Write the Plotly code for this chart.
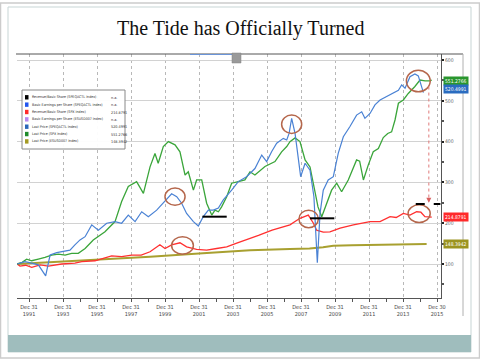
import plotly.graph_objects as go

# ---------------- data (decimal years, index values) ----------------
spx_year = [1991.30, 1991.60, 1991.86, 1992.16, 1992.55, 1992.94, 1993.33, 1993.73, 1994.12, 1994.51,
            1994.90, 1995.30, 1995.78, 1996.20, 1996.47, 1997.06, 1997.45, 1997.84, 1998.33, 1998.73,
            1999.02, 1999.12, 1999.41, 1999.60, 1999.90, 2000.20, 2000.59, 2000.88, 2001.18, 2001.37,
            2001.67, 2001.86, 2002.16, 2002.45, 2002.75, 2002.94, 2003.14, 2003.33, 2003.63, 2003.92,
            2004.31, 2004.70, 2005.00, 2005.29, 2005.88, 2006.47, 2006.86, 2007.16, 2007.35, 2007.65,
            2007.94, 2008.24, 2008.53, 2008.82, 2009.00, 2009.22, 2009.51, 2009.80, 2010.10, 2010.39,
            2010.78, 2011.27, 2011.45, 2011.67, 2011.96, 2012.25, 2012.55, 2012.84, 2013.10, 2013.33,
            2013.53, 2013.73, 2014.02, 2014.31, 2014.70, 2015.00, 2015.30, 2015.59, 2015.69]
spx_price = [100, 104, 112, 108, 112, 116, 122, 124, 122, 126,
             126, 138, 159, 172, 179, 204, 253, 290, 302, 273,
             326, 338, 371, 347, 388, 400, 392, 375, 318, 326,
             281, 306, 306, 249, 220, 232, 228, 240, 265, 298,
             302, 306, 326, 318, 339, 351, 375, 388, 400, 409,
             400, 355, 338, 281, 240, 216, 249, 281, 298, 277,
             306, 355, 352, 306, 343, 375, 383, 410, 420, 424,
             453, 494, 502, 518, 535, 551, 549, 549, 551]

eq_year = [1991.30, 1991.76, 1992.16, 1992.55, 1992.98, 1993.24, 1993.63, 1994.12, 1994.41, 1994.70,
           1995.00, 1995.30, 1995.69, 1996.08, 1996.57, 1997.06, 1997.45, 1997.84, 1998.24, 1998.63,
           1999.02, 1999.51, 1999.80, 2000.10, 2000.39, 2000.69, 2000.98, 2001.27, 2001.67, 2001.96,
           2002.25, 2002.55, 2002.84, 2003.14, 2003.43, 2003.92, 2004.31, 2004.80, 2005.29, 2005.69,
           2005.98, 2006.27, 2006.57, 2006.96, 2007.16, 2007.30, 2007.45, 2007.65, 2007.84, 2007.98,
           2008.24, 2008.53, 2008.76, 2008.96, 2009.12, 2009.31, 2009.60, 2009.90, 2010.19, 2010.49,
           2010.88, 2011.27, 2011.57, 2011.76, 2012.06, 2012.35, 2012.65, 2013.04, 2013.43, 2013.73,
           2013.92, 2014.12, 2014.41, 2014.70, 2014.90, 2015.10, 2015.20]
eq_price = [100, 106, 102, 98, 71, 122, 128, 132, 134, 147,
            159, 167, 196, 183, 200, 204, 200, 220, 204, 228,
            216, 232, 245, 261, 272, 265, 249, 224, 204, 193,
            216, 232, 232, 237, 257, 281, 302, 314, 334, 367,
            351, 375, 396, 408, 404, 420, 457, 420, 355, 314,
            347, 330, 265, 103, 224, 281, 306, 314, 371, 412,
            437, 465, 473, 457, 469, 490, 502, 510, 518, 526,
            539, 531, 559, 566, 561, 531, 520]

rev_year = [1991.30, 1991.47, 1991.80, 1992.16, 1992.65, 1993.14, 1993.92, 1994.70, 1995.10, 1995.88,
            1996.86, 1997.45, 1998.04, 1998.60, 1999.12, 1999.70, 2000.00, 2000.39, 2000.88, 2001.27,
            2001.86, 2002.45, 2003.04, 2003.63, 2004.22, 2004.80, 2005.50, 2006.30, 2007.00, 2007.35,
            2007.94, 2008.43, 2008.73, 2008.92, 2009.31, 2009.70, 2010.30, 2011.08, 2012.06, 2012.65,
            2013.24, 2013.60, 2014.02, 2014.41, 2014.80, 2015.05, 2015.29, 2015.69]
rev_share = [100, 95, 97, 92, 98, 95, 100, 102, 106, 108,
             120, 118, 122, 122, 130, 147, 138, 147, 152, 142,
             136, 134, 138, 142, 151, 159, 170, 183, 192, 196,
             212, 220, 200, 183, 178, 179, 188, 196, 204, 204,
             216, 214, 224, 220, 228, 227, 216, 215]

es_year = [1991.30, 1993.53, 1996.00, 1998.04, 1999.12, 2002.00, 2005.00, 2007.35, 2008.50, 2009.30,
           2009.90, 2011.00, 2012.06, 2013.50, 2015.39]
es_price = [100, 105, 110, 114, 118, 126, 134, 137, 138, 141,
            145, 146, 147, 148, 149]

legend_names = ["Revenue/Basic Share (SPEQACTL Index)",
                "Basic Earnings per Share (SPEQACTL Index)",
                "Revenue/Basic Share (SPX Index)",
                "Basic Earnings per Share (ESUSD007 Index)",
                "Last Price (SPEQACTL Index)",
                "Last Price (SPX Index)",
                "Last Price (ESUSD007 Index)"]
legend_values = ["n.a.", "n.a.", "214.8791", "n.a.", "520.4991", "551.2766", "148.3942"]
legend_colors = ["#000000", "#2255ee", "#ff2a2a", "#b888f0", "#2a66b8", "#1f8a2a", "#a49a24"]

x_tick_vals = [1992, 1994, 1996, 1998, 2000, 2002, 2004, 2006, 2008, 2010, 2012, 2014, 2016]
x_tick_text = ["Dec 31<br>1991", "Dec 31<br>1993", "Dec 31<br>1995", "Dec 31<br>1997", "Dec 31<br>1999",
               "Dec 31<br>2001", "Dec 31<br>2003", "Dec 31<br>2005", "Dec 31<br>2007", "Dec 31<br>2009",
               "Dec 31<br>2011", "Dec 31<br>2013", "Dec 30<br>2015"]
y_tick_vals = [100, 200, 300, 400, 500, 600]

# ---------------- geometry helpers ----------------
L, R, T, B = 17, 441, 54, 298
def px(x):
    return (x - L) / (R - L)
def py(y):
    return (B - y) / (B - T)

NARROW = "DejaVu Sans Condensed, Liberation Sans, sans-serif"

fig = go.Figure()
fig.add_trace(go.Scatter(x=es_year, y=es_price, mode="lines", line=dict(color="#a8a030", width=2)))
fig.add_trace(go.Scatter(x=rev_year, y=rev_share, mode="lines", line=dict(color="#ff3030", width=1.3)))
fig.add_trace(go.Scatter(x=spx_year, y=spx_price, mode="lines", line=dict(color="#3aa53a", width=1.3)))
fig.add_trace(go.Scatter(x=eq_year, y=eq_price, mode="lines", line=dict(color="#4a82d4", width=1.2)))

shapes = []
# slide frame
shapes.append(dict(type="rect", xref="paper", yref="paper", x0=px(0.5), x1=px(479.5), y0=py(358), y1=py(3),
                   line=dict(color="#cccccc", width=1.5), layer="below"))
shapes.append(dict(type="rect", xref="paper", yref="paper", x0=px(8), x1=px(471), y0=py(352), y1=py(7),
                   line=dict(color="#c7d5d5", width=1), layer="below"))
shapes.append(dict(type="rect", xref="paper", yref="paper", x0=px(8), x1=px(471), y0=py(352), y1=py(335),
                   fillcolor="#9fbdbd", line=dict(width=0), layer="below"))
# chart frame lines
shapes.append(dict(type="line", xref="paper", yref="paper", x0=px(16), x1=px(463), y0=py(54), y1=py(54),
                   line=dict(color="#555555", width=1)))
shapes.append(dict(type="line", xref="paper", yref="paper", x0=px(463), x1=px(463), y0=py(54), y1=py(316),
                   line=dict(color="#b0b0b0", width=1)))
shapes.append(dict(type="line", xref="paper", yref="paper", x0=px(190), x1=px(232), y0=py(54.5), y1=py(54.5),
                   line=dict(color="#6a94d8", width=1)))
shapes.append(dict(type="rect", xref="paper", yref="paper", x0=px(232), x1=px(241), y0=py(63), y1=py(53),
                   fillcolor="#9a9a9a", line=dict(color="#808080", width=0.5)))
# legend box
shapes.append(dict(type="rect", xref="paper", yref="paper", x0=px(22), x1=px(125), y0=py(149), y1=py(90),
                   fillcolor="rgba(255,255,255,0.95)", line=dict(color="#888888", width=1), layer="above"))

annotations = []
row0, dy = 97.3, 7.35
for i, (nm, val, col) in enumerate(zip(legend_names, legend_values, legend_colors)):
    yy = row0 + i * dy
    shapes.append(dict(type="rect", xref="paper", yref="paper", x0=px(25), x1=px(28.5),
                       y0=py(yy + 2.2), y1=py(yy - 2.2), fillcolor=col, line=dict(width=0), layer="above"))
    annotations.append(dict(xref="paper", yref="paper", x=px(29.5), y=py(yy), text=nm, showarrow=False,
                            xanchor="left", yanchor="middle", font=dict(family=NARROW, size=3.6, color="#333333")))
    annotations.append(dict(xref="paper", yref="paper", x=px(108.5), y=py(yy), text=val, showarrow=False,
                            xanchor="left", yanchor="middle", font=dict(family=NARROW, size=3.8, color="#333333")))

# hand-drawn annotations (circles, bars, arrow)
circ_col = "#b5674c"
circles = [(2000.0, 2001.18, 244, 286), (2000.39, 2001.67, 124, 167), (2006.86, 2008.04, 420, 465),
           (2007.88, 2009.02, 189, 232), (2014.2, 2015.6, 522, 575), (2014.3, 2015.6, 202, 245)]
for x0, x1, y0, y1 in circles:
    shapes.append(dict(type="circle", xref="x", yref="y", x0=x0, x1=x1, y0=y0, y1=y1,
                       line=dict(color=circ_col, width=1.5)))
shapes.append(dict(type="line", xref="x", yref="y", x0=2002.2, x1=2003.63, y0=216, y1=216,
                   line=dict(color="black", width=2)))
shapes.append(dict(type="line", xref="x", yref="y", x0=2008.53, x1=2009.96, y0=212, y1=212,
                   line=dict(color="black", width=2)))
shapes.append(dict(type="line", xref="x", yref="y", x0=2014.75, x1=2016.2, y0=247, y1=247,
                   line=dict(color="black", width=2, dash="dash")))
shapes.append(dict(type="line", xref="x", yref="y", x0=2015.52, x1=2015.52, y0=535, y1=258,
                   line=dict(color="#e07a7a", width=1, dash="dot")))
annotations.append(dict(x=2015.52, y=250, ax=2015.52, ay=262, xref="x", yref="y", axref="x", ayref="y",
                        text="", showarrow=True, arrowhead=2, arrowsize=1, arrowwidth=1, arrowcolor="#d86060"))

# last-value tags on the right
tag_specs = [(5, 551.2766 - 3, "#2a962e"), (4, 520.4991 + 9, "#2a6cc0"),
             (2, 214.8791, "#ff2a2a"), (6, 148.3942, "#9c9420")]
for idx, yv, col in tag_specs:
    annotations.append(dict(xref="paper", yref="y", x=px(442.5), y=yv, text=legend_values[idx],
                            showarrow=False, xanchor="left", yanchor="middle", bgcolor=col, borderpad=1.0,
                            font=dict(family=NARROW, size=5, color="white")))

# title
annotations.append(dict(xref="paper", yref="paper", x=px(240), y=py(29), text="The Tide has Officially Turned",
                        showarrow=False, xanchor="center", yanchor="middle",
                        font=dict(family="Liberation Serif, serif", size=20, color="#111111")))

fig.update_layout(
    width=480, height=360,
    margin=dict(l=L, r=480 - R, t=T, b=360 - B, autoexpand=False),
    paper_bgcolor="white", plot_bgcolor="white",
    showlegend=False,
    shapes=shapes, annotations=annotations,
    xaxis=dict(range=[1991.294, 2016.235], tickmode="array", tickvals=x_tick_vals, ticktext=x_tick_text,
               automargin=False,
               showgrid=True, gridcolor="#b8b8b8", griddash="dot", gridwidth=1,
               showline=True, linecolor="#555555", linewidth=1, ticks="outside", ticklen=3, tickcolor="#555555",
               minor=dict(tick0=1993, dtick=2, ticks="outside", ticklen=3, tickcolor="#555555", showgrid=False),
               tickfont=dict(family=NARROW, size=5.5, color="#444444"), zeroline=False),
    yaxis=dict(range=[16.7, 614.7], side="right", tickmode="array", tickvals=y_tick_vals,
               automargin=False,
               showgrid=True, gridcolor="#d2d2d2", gridwidth=1,
               showline=True, linecolor="#555555", linewidth=1, ticks="outside", ticklen=2, tickwidth=2,
               tickcolor="#222222",
               minor=dict(tick0=50, dtick=50, ticks="outside", ticklen=2, tickcolor="#555555", showgrid=False),
               tickfont=dict(family=NARROW, size=5, color="#666666"), zeroline=False),
)

fig.write_html("out.html", config={"displayModeBar": False},
               post_script="document.body.style.margin='0';")
